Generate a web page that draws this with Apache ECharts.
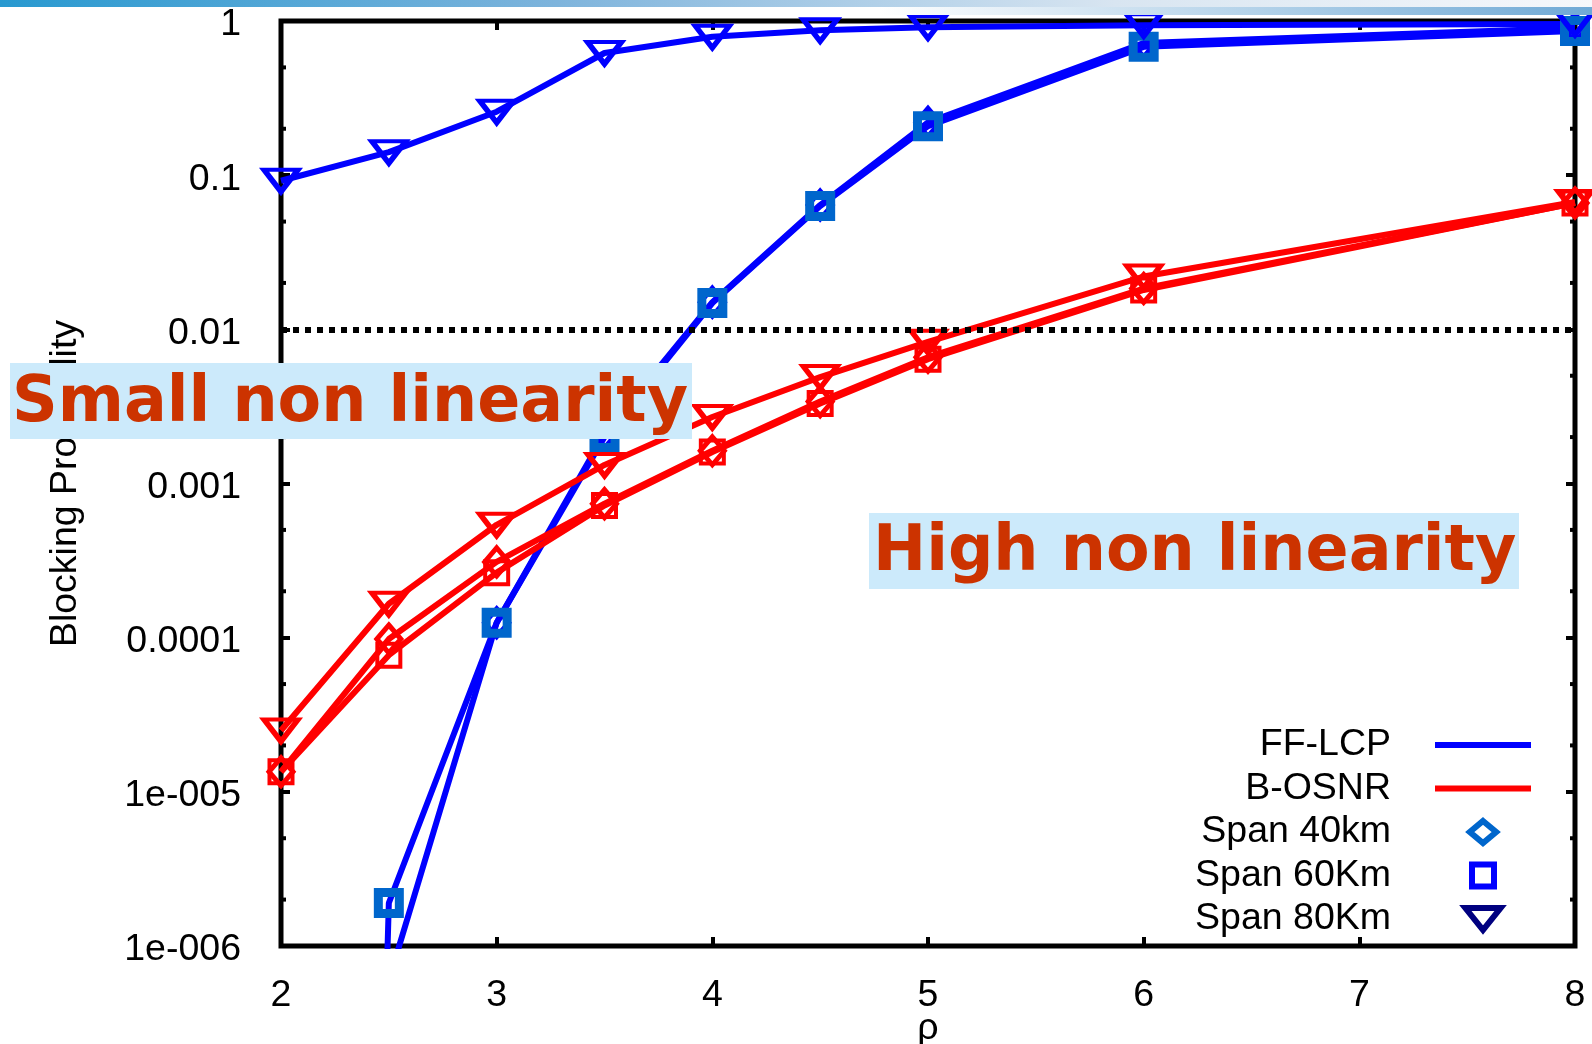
<!DOCTYPE html>
<html>
<head>
<meta charset="utf-8">
<script src="https://cdn.jsdelivr.net/npm/echarts@6/dist/echarts.min.js"></script>
<style>
  html, body { margin: 0; padding: 0; background: #fff; }
  #main { width: 1592px; height: 1044px; }
</style>
</head>
<body>
<div id="main"></div>
<script>
// rho values (x axis)
const rho = [2, 2.5, 3, 3.5, 4, 4.5, 5, 6, 8];

// blocking probability (1e-30 = effectively zero, below the plot)
const ffLcp40 = [1e-30, 6e-7, 1.25e-4, 2.1e-3, 0.0150, 0.064, 0.22, 0.72, 0.90];
const ffLcp60 = [1e-30, 1.9e-6, 1.25e-4, 2.0e-3, 0.0148, 0.063, 0.208, 0.68, 0.86];
const ffLcp80 = [0.092, 0.141, 0.258, 0.62, 0.79, 0.87, 0.91, 0.94, 0.956];
const bOsnr40 = [1.35e-5, 9.8e-5, 3.1e-4, 7.4e-4, 1.63e-3, 3.4e-3, 6.6e-3, 0.0184, 0.066];
const bOsnr60 = [1.35e-5, 7.7e-5, 2.64e-4, 7.2e-4, 1.6e-3, 3.3e-3, 6.4e-3, 0.018, 0.066];
const bOsnr80 = [2.5e-5, 1.66e-4, 5.4e-4, 1.32e-3, 2.7e-3, 4.9e-3, 8.3e-3, 0.022, 0.067];

const threshold = 0.01;

const xTickLabels = ['2', '3', '4', '5', '6', '7', '8'];
const yTickLabels = ['1e-006', '1e-005', '0.0001', '0.001', '0.01', '0.1', '1'];
const minorTickValues = [2e-6, 5e-6, 2e-5, 5e-5, 2e-4, 5e-4, 2e-3, 5e-3, 0.02, 0.05, 0.2, 0.5];

const FONT = 'Liberation Sans';
const FS = 37.5;
const BLUE = '#0000ff', RED = '#ff0000', MID = '#0066cc', NAVY = '#000080';

function pts(vals) {
  return rho.map((x, i) => [x, vals[i]]);
}

function lineSeries(name, vals, lineColor, symbol, size, markColor, bw, rotate) {
  return {
    name: name,
    type: 'line',
    data: pts(vals),
    symbol: symbol,
    symbolSize: size,
    symbolRotate: rotate || 0,
    showAllSymbol: true,
    lineStyle: { color: lineColor, width: 6 },
    itemStyle: { color: 'rgba(255,255,255,0)', borderColor: markColor, borderWidth: bw },
    emphasis: { disabled: true },
    animation: false
  };
}

function dummy(name) {
  return { name: name, type: 'line', data: [], silent: true };
}

const chart = echarts.init(document.getElementById('main'));

chart.setOption({
  animation: false,
  textStyle: { fontFamily: FONT },
  grid: { left: 281, right: 17, top: 21, bottom: 98, outerBoundsMode: 'none', containLabel: false,
    show: true, borderColor: '#000', borderWidth: 5, backgroundColor: 'transparent' },
  xAxis: [{
    type: 'value', min: 2, max: 8, interval: 1,
    name: 'ρ', nameLocation: 'middle', nameGap: 64, nameMoveOverlap: false,
    nameTextStyle: { fontFamily: FONT, fontSize: FS, color: '#000' },
    axisLine: { show: false },
    axisTick: { inside: true, length: 9, lineStyle: { color: '#000', width: 4 } },
    splitLine: { show: false },
    axisLabel: { fontFamily: FONT, fontSize: FS, color: '#000', margin: 31,
      formatter: v => xTickLabels[Math.round(v) - 2] }
  }, {
    type: 'value', min: 2, max: 8, interval: 1, position: 'top',
    axisLine: { show: false },
    axisTick: { inside: true, length: 9, lineStyle: { color: '#000', width: 4 } },
    splitLine: { show: false }, axisLabel: { show: false }
  }],
  yAxis: [{
    type: 'log', min: 1e-6, max: 1, logBase: 10,
    name: 'Blocking Probability', nameLocation: 'middle', nameGap: 196, nameMoveOverlap: false,
    nameTextStyle: { fontFamily: FONT, fontSize: FS, color: '#000' },
    axisLine: { show: false },
    axisTick: { inside: true, length: 9, lineStyle: { color: '#000', width: 4 } },
    splitLine: { show: false },
    axisLabel: { fontFamily: FONT, fontSize: FS, color: '#000', margin: 40,
      verticalAlign: 'top', lineHeight: 8,
      formatter: v => yTickLabels[Math.round(Math.log10(v)) + 6] }
  }, {
    type: 'log', min: 1e-6, max: 1, logBase: 10, position: 'right',
    axisLine: { show: false },
    axisTick: { inside: true, length: 9, lineStyle: { color: '#000', width: 4 } },
    splitLine: { show: false }, axisLabel: { show: false }
  }],
  legend: {
    orient: 'vertical', align: 'right', right: 56, top: 721,
    itemWidth: 96, itemHeight: 22, itemGap: 5.5, selectedMode: false,
    textStyle: { fontFamily: FONT, fontSize: FS, color: '#000', padding: [0, 39, 0, 0] },
    data: [
      { name: 'FF-LCP', icon: 'path://M0,0H96V6H0Z', itemStyle: { color: BLUE, borderWidth: 0 } },
      { name: 'B-OSNR', icon: 'path://M0,0H96V6H0Z', itemStyle: { color: RED, borderWidth: 0 } },
      { name: 'Span 40km', icon: 'path://M12,0L24,10L12,20L0,10Z', itemStyle: { color: 'rgba(255,255,255,0)', borderColor: MID, borderWidth: 6 } },
      { name: 'Span 60Km', icon: 'path://M0,0H20V20H0Z', itemStyle: { color: 'rgba(255,255,255,0)', borderColor: BLUE, borderWidth: 6 } },
      { name: 'Span 80Km', icon: 'path://M0,0H32L16,20Z', itemStyle: { color: 'rgba(255,255,255,0)', borderColor: NAVY, borderWidth: 6 } }
    ]
  },
  series: [
    lineSeries('FF-LCP 40km', ffLcp40, BLUE, 'diamond', [24, 28], BLUE, 5),
    lineSeries('FF-LCP 60Km', ffLcp60, BLUE, 'rect', 21, MID, 9),
    lineSeries('FF-LCP 80Km', ffLcp80, BLUE, 'triangle', [34, 22], BLUE, 5, 180),
    lineSeries('B-OSNR 40km', bOsnr40, RED, 'diamond', [24, 28], RED, 5),
    lineSeries('B-OSNR 60Km', bOsnr60, RED, 'rect', 23, RED, 4),
    lineSeries('B-OSNR 80Km', bOsnr80, RED, 'triangle', [34, 22], RED, 5, 180),
    {
      name: 'threshold', type: 'line', data: [], silent: true,
      markLine: {
        silent: true, symbol: 'none', animation: false,
        label: { show: false },
        lineStyle: { color: '#000', width: 6, type: [6, 6], cap: 'butt' },
        data: [{ yAxis: threshold }]
      }
    },
    {
      name: 'minor ticks', type: 'custom', silent: true,
      data: minorTickValues.map(v => [2, v]),
      encode: { x: 0, y: 1 },
      renderItem: function (params, api) {
        const v = api.value(1);
        const l = api.coord([2, v]);
        const r = api.coord([8, v]);
        const st = { stroke: '#000', lineWidth: 4 };
        return { type: 'group', children: [
          { type: 'line', shape: { x1: l[0], y1: l[1], x2: l[0] + 5, y2: l[1] }, style: st },
          { type: 'line', shape: { x1: r[0] - 5, y1: r[1], x2: r[0], y2: r[1] }, style: st }
        ] };
      }
    },
    dummy('FF-LCP'), dummy('B-OSNR'), dummy('Span 40km'), dummy('Span 60Km'), dummy('Span 80Km')
  ],
  graphic: [
    { type: 'rect', z: 100, shape: { x: 0, y: 0, width: 1592, height: 7 },
      style: { fill: new echarts.graphic.LinearGradient(0, 0, 1, 0, [
        { offset: 0, color: '#2899d0' }, { offset: 0.35, color: '#7eb4dc' },
        { offset: 0.7, color: '#d8e5f1' }, { offset: 1, color: '#f6f8fb' }]) } },
    { type: 'rect', z: 100, shape: { x: 880, y: 7, width: 712, height: 8 },
      style: { fill: new echarts.graphic.LinearGradient(0, 0, 1, 0, [
        { offset: 0, color: '#ffffff' }, { offset: 1, color: '#6fa9d5' }]) } },
    { type: 'rect', z: 100, shape: { x: 10, y: 363, width: 682, height: 76 }, style: { fill: '#cceafb' } },
    { type: 'text', z: 101, x: 12, y: 404,
      style: { text: 'Small non linearity', fill: '#cc3300', font: 'bold 63.5px "DejaVu Sans"', verticalAlign: 'middle' } },
    { type: 'rect', z: 100, shape: { x: 869, y: 513, width: 650, height: 76 }, style: { fill: '#cceafb' } },
    { type: 'text', z: 101, x: 873, y: 553,
      style: { text: 'High non linearity', fill: '#cc3300', font: 'bold 63.5px "DejaVu Sans"', verticalAlign: 'middle' } }
  ]
});
</script>
</body>
</html>
